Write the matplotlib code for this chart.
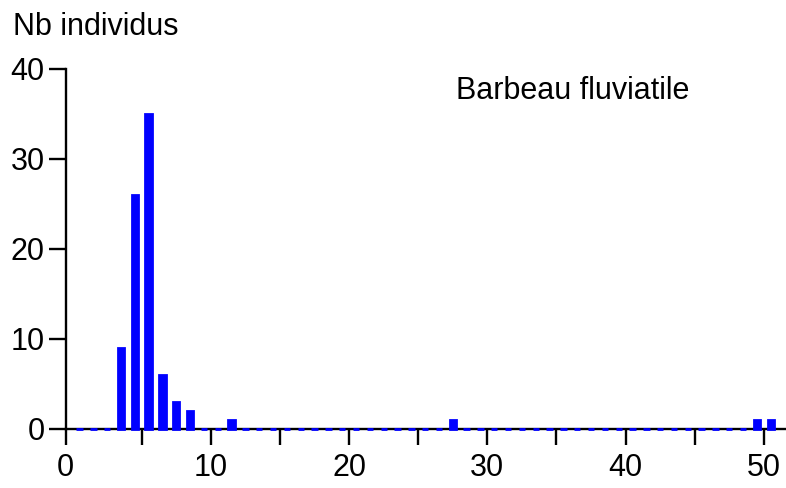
import matplotlib
matplotlib.use("Agg")
import matplotlib.pyplot as plt

plt.rcParams['font.family'] = ['Liberation Sans', 'DejaVu Sans']

# length classes (lower bin edge) and counts
classes = list(range(51))
counts = [0, 0, 0, 9, 26, 35, 6, 3, 2, 0,
          0, 1, 0, 0, 0, 0, 0, 0, 0, 0,
          0, 0, 0, 0, 0, 0, 0, 1, 0, 0,
          0, 0, 0, 0, 0, 0, 0, 0, 0, 0,
          0, 0, 0, 0, 0, 0, 0, 0, 0, 1,
          1]
x_major = [-0.5, 10, 20, 30, 40, 50]
x_labels = ['0', '10', '20', '30', '40', '50']
x_minor = [5, 15, 25, 35, 45]
y_ticks = [0, 10, 20, 30, 40]
y_title = "Nb individus"
species = "Barbeau fluviatile"

fig = plt.figure(figsize=(7.86, 4.88), dpi=100)
ax = fig.add_axes([65.7/786, (488-429)/488, (786-65.7)/786, (429-69)/488])

centers = [c + 0.5 for c in classes]
ax.bar(centers, counts, width=0.46, color='#0000FF', edgecolor='#0000FF',
       linewidth=2.0, zorder=3, clip_on=False)

ax.set_xlim(-0.5, 51.6)
ax.set_ylim(0, 40)
ax.set_xticks(x_major)
ax.set_xticklabels(x_labels)
ax.set_xticks(x_minor, minor=True)
ax.set_yticks(y_ticks)

for s in ['top', 'right']:
    ax.spines[s].set_visible(False)
for s in ['left', 'bottom']:
    ax.spines[s].set_linewidth(1.7)
    ax.spines[s].set_color('black')

ax.tick_params(axis='x', which='both', direction='out', length=11.5, width=1.7,
               labelsize=22, pad=6, colors='black')
ax.tick_params(axis='y', which='both', direction='out', length=12, width=1.7,
               labelsize=22, pad=3, colors='black')

fig.text(13/786, 1 - 35/488, y_title, fontsize=22, ha='left', va='baseline')
fig.text(456/786, 1 - 99/488, species, fontsize=22, ha='left', va='baseline')

fig.savefig("out.png", dpi=100)
